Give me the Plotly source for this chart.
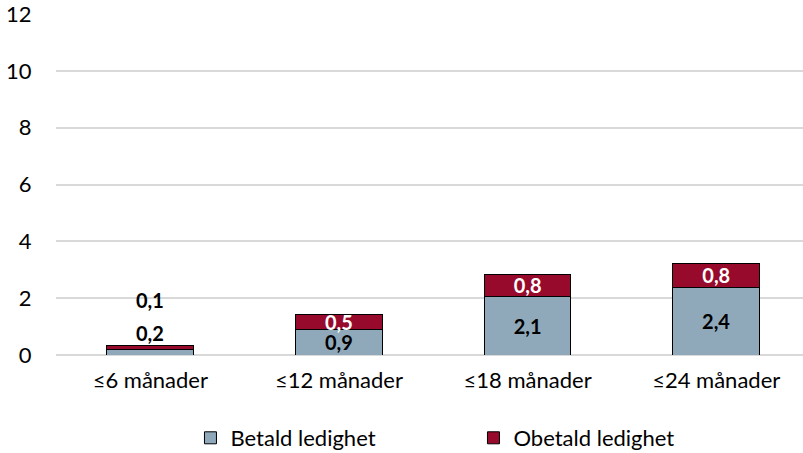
import plotly.graph_objects as go

categories = ["≤6 månader", "≤12 månader", "≤18 månader", "≤24 månader"]
betald = [0.2, 0.88, 2.06, 2.39]
obetald = [0.12, 0.53, 0.78, 0.84]
y_ticks = [0, 2, 4, 6, 8, 10, 12]

FONT = "Lato"
FS = 22
FS_LBL = 20
C_BET = "#8FA9BA"
C_OBE = "#970A2C"

def fmt(v):
    return f"{v:.1f}".replace(".", ",")

# first category's labels are placed above the bar (do not fit inside)
bet_text = [""] + [fmt(v) for v in betald[1:]]
obe_text = [""] + [fmt(v) for v in obetald[1:]]

fig = go.Figure()
fig.add_trace(go.Bar(
    x=categories, y=betald, name="Betald ledighet",
    marker=dict(color=C_BET, line=dict(color="#000000", width=1)),
    text=bet_text, textposition="inside", insidetextanchor="middle",
    textfont=dict(family=FONT, size=FS_LBL, color="#000000", weight="bold"),
    constraintext="none", cliponaxis=False, width=0.46,
))
fig.add_trace(go.Bar(
    x=categories, y=obetald, name="Obetald ledighet",
    marker=dict(color=C_OBE, line=dict(color="#000000", width=1)),
    text=obe_text, textposition="inside", insidetextanchor="middle",
    textfont=dict(family=FONT, size=FS_LBL, color="#FFFFFF", weight="bold"),
    constraintext="none", cliponaxis=False, width=0.46,
))

top0 = betald[0] + obetald[0]
fig.add_annotation(x=categories[0], y=top0, text=fmt(betald[0]), showarrow=False,
                   yanchor="middle", yshift=13,
                   font=dict(family=FONT, size=FS_LBL, color="#000000", weight="bold"))
fig.add_annotation(x=categories[0], y=top0, text=fmt(obetald[0]), showarrow=False,
                   yanchor="middle", yshift=46,
                   font=dict(family=FONT, size=FS_LBL, color="#000000", weight="bold"))

fig.update_layout(
    barmode="stack",
    width=803, height=453,
    margin=dict(l=56, r=0, t=14, b=97.5, autoexpand=False),
    paper_bgcolor="white", plot_bgcolor="white",
    font=dict(family=FONT, size=FS, color="#000000"),
    uniformtext=dict(minsize=FS_LBL, mode="show"),
    showlegend=True,
    legend=dict(orientation="h", x=0.18, xanchor="left",
                yref="container", y=1 - 438 / 453, yanchor="middle",
                font=dict(family=FONT, size=FS, color="#000000"),
                entrywidth=238, entrywidthmode="pixels", traceorder="normal",
                itemclick=False),
    xaxis=dict(range=[-0.5, 3.46], showgrid=False, zeroline=False, showline=False,
               automargin=False,
               ticks="outside", ticklen=6, tickcolor="rgba(0,0,0,0)",
               tickfont=dict(family=FONT, size=FS, color="#000000")),
    yaxis=dict(range=[0, 12], tickvals=y_ticks, ticktext=[str(v) for v in y_ticks],
               automargin=False, ticklabeloverflow="allow",
               showgrid=True, gridcolor="#D9D9D9", gridwidth=1.5,
               zeroline=True, zerolinecolor="#D9D9D9", zerolinewidth=1.5,
               showline=False, ticks="outside", ticklen=19, tickcolor="rgba(0,0,0,0)",
               tickfont=dict(family=FONT, size=FS, color="#000000")),
)

fig.write_html("out.html", config={"displayModeBar": False},
               post_script="document.body.style.margin='0';")
